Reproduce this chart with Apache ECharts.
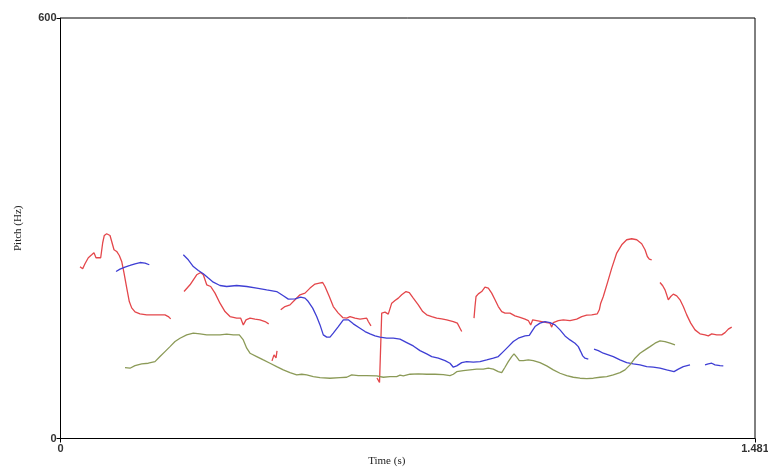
<!DOCTYPE html>
<html>
<head>
<meta charset="utf-8">
<title>Pitch contours</title>
<script src="https://cdn.jsdelivr.net/npm/echarts@6/dist/echarts.min.js"></script>
<style>
  html, body { margin: 0; padding: 0; background: #fff; }
  #chart { width: 768px; height: 468px; }
</style>
</head>
<body>
<div id="chart"></div>
<script>
// Axis ranges and tick labels
const timeRange = [0, 1.481];      // seconds
const pitchRange = [0, 600];       // Hz

// Pitch contours: each inner array is one voiced stretch of [time (s), pitch (Hz)]
const redContours = [
  [[0.0416,245.0],[0.0473,242.1],[0.0522,249.3],[0.0593,257.9],[0.0665,262.1],[0.0714,265.0],
   [0.0757,257.9],[0.0806,257.9],[0.0857,257.9],[0.0900,279.3],[0.0934,289.7],[0.0985,292.1],
   [0.1056,289.7],[0.1092,281.1],[0.1141,269.3],[0.1198,266.9],[0.1254,261.1],[0.1305,252.6],
   [0.1354,236.4],[0.1412,215.0],[0.1467,195.4],[0.1518,186.4],[0.1589,180.7],[0.1695,177.9],
   [0.1838,176.4],[0.2051,176.4],[0.2228,176.4],[0.2299,174.0],[0.2350,170.7]],
  [[0.2634,209.7],[0.2762,219.3],[0.2904,233.6],[0.2990,236.9],[0.3045,233.6],[0.3118,219.3],
   [0.3203,216.9],[0.3295,207.4],[0.3401,193.1],[0.3508,181.1],[0.3615,174.0],[0.3757,171.7],
   [0.3843,171.7],[0.3898,162.1],[0.3956,169.3],[0.4041,171.7],[0.4148,170.3],[0.4254,169.3],
   [0.4361,166.9],[0.4440,163.6]],
  [[0.4510,110.7],[0.4553,119.3],[0.4596,115.0],[0.4617,125.0]],
  [[0.4696,183.6],[0.4787,188.3],[0.4894,190.7],[0.5001,197.9],[0.5107,205.0],[0.5214,207.4],
   [0.5321,214.6],[0.5427,220.3],[0.5519,221.7],[0.5591,222.6],[0.5640,216.9],[0.5732,202.6],
   [0.5817,188.3],[0.5924,178.9],[0.6018,172.6],[0.6103,171.7],[0.6174,174.0],[0.6280,171.7],
   [0.6387,170.3],[0.6530,171.7],[0.6564,166.9],[0.6621,160.7]],
  [[0.6749,86.4],[0.6803,80.0],[0.6840,79.3],[0.6850,178.9],[0.6920,180.3],[0.6990,177.4],
   [0.7027,175.0],[0.7063,193.1],[0.7133,196.9],[0.7204,200.3],[0.7276,205.0],[0.7368,209.7],
   [0.7438,208.3],[0.7523,200.3],[0.7630,190.7],[0.7724,181.1],[0.7809,176.4],[0.7916,174.0],
   [0.8022,171.7],[0.8129,170.7],[0.8236,169.3],[0.8377,166.9],[0.8462,164.6],[0.8519,157.4],
   [0.8556,152.6]],
  [[0.8818,171.7],[0.8839,188.3],[0.8861,202.6],[0.8910,206.4],[0.8982,209.7],[0.9052,216.0],
   [0.9123,214.6],[0.9195,207.4],[0.9266,197.9],[0.9336,188.3],[0.9409,181.1],[0.9479,178.9],
   [0.9586,178.9],[0.9692,175.0],[0.9799,172.9],[0.9906,170.3],[0.9976,168.3],[1.0027,162.1],
   [1.0070,169.3],[1.0155,168.3],[1.0262,166.9],[1.0368,165.4],[1.0439,164.6],[1.0475,158.9],
   [1.0509,165.4],[1.0616,168.3],[1.0722,169.3],[1.0865,168.3],[1.1008,170.3],[1.1115,174.0],
   [1.1221,176.0],[1.1328,176.4],[1.1447,177.9],[1.1490,183.6],[1.1520,193.1],[1.1575,202.6],
   [1.1661,221.7],[1.1755,243.1],[1.1861,264.6],[1.1968,276.4],[1.2074,283.6],[1.2181,285.0],
   [1.2288,283.6],[1.2394,277.9],[1.2465,269.3],[1.2514,259.7],[1.2556,256.0],[1.2607,255.0]],
  [[1.2784,222.6],[1.2842,217.9],[1.2891,212.1],[1.2927,205.0],[1.2961,197.9],[1.3013,202.6],
   [1.3068,206.0],[1.3141,203.6],[1.3211,197.9],[1.3281,188.3],[1.3354,176.4],[1.3439,164.6],
   [1.3531,155.0],[1.3637,149.3],[1.3744,147.9],[1.3814,146.4],[1.3887,149.3],[1.3994,147.9],
   [1.4100,147.9],[1.4171,151.1],[1.4241,156.0],[1.4313,158.9]]
];

const blueContours = [
  [[0.1184,238.3],[0.1269,241.7],[0.1375,244.6],[0.1482,246.9],[0.1589,249.3],[0.1695,251.1],
   [0.1802,250.3],[0.1894,247.9]],
  [[0.2619,262.1],[0.2725,255.0],[0.2832,245.4],[0.2939,239.7],[0.3045,235.0],[0.3152,228.9],
   [0.3258,223.1],[0.3401,218.3],[0.3544,216.9],[0.3757,218.3],[0.3971,216.9],[0.4184,214.6],
   [0.4397,212.1],[0.4610,209.7],[0.4751,203.6],[0.4858,198.9],[0.5001,199.3],[0.5122,201.7],
   [0.5214,200.3],[0.5284,195.4],[0.5378,186.0],[0.5463,174.0],[0.5534,162.1],[0.5604,147.9],
   [0.5677,144.6],[0.5747,144.6],[0.5817,150.3],[0.5924,159.7],[0.6031,169.3],[0.6137,169.3],
   [0.6244,163.6],[0.6387,157.4],[0.6494,152.6],[0.6600,149.3],[0.6707,146.4],[0.6813,144.6],
   [0.6956,143.1],[0.7097,143.1],[0.7240,141.7],[0.7383,136.9],[0.7523,132.1],[0.7666,125.4],
   [0.7809,120.7],[0.7916,116.9],[0.8057,114.6],[0.8200,111.1],[0.8306,107.4],[0.8377,101.7],
   [0.8449,103.6],[0.8556,108.3],[0.8662,109.7],[0.8803,108.9],[0.8946,109.7],[0.9089,112.1],
   [0.9230,114.6],[0.9336,116.9],[0.9443,124.0],[0.9549,131.1],[0.9656,138.3],[0.9763,143.1],
   [0.9906,146.4],[0.9997,147.1],[1.0048,152.6],[1.0119,159.7],[1.0225,164.6],[1.0332,166.9],
   [1.0439,165.4],[1.0545,162.1],[1.0652,155.0],[1.0758,146.4],[1.0865,140.7],[1.0972,136.0],
   [1.1042,131.1],[1.1093,124.0],[1.1136,117.9],[1.1185,114.6],[1.1255,113.1]],
  [[1.1377,127.4],[1.1469,125.4],[1.1575,121.7],[1.1682,119.3],[1.1788,116.9],[1.1931,112.1],
   [1.2074,108.3],[1.2215,106.4],[1.2358,105.0],[1.2501,102.6],[1.2641,101.7],[1.2784,100.3],
   [1.2927,97.9],[1.3083,95.4],[1.3175,98.9],[1.3281,102.6],[1.3424,105.0]],
  [[1.3744,105.0],[1.3814,106.4],[1.3887,107.4],[1.3957,105.0],[1.4064,104.0],[1.4134,103.6]]
];

const greenContours = [
  [[0.1375,101.1],[0.1482,100.3],[0.1589,104.0],[0.1732,106.4],[0.1872,107.4],[0.2015,109.7],
   [0.2122,116.9],[0.2228,124.0],[0.2335,131.1],[0.2442,138.3],[0.2548,143.1],[0.2691,147.9],
   [0.2832,150.3],[0.2975,149.3],[0.3118,147.9],[0.3258,147.9],[0.3401,147.9],[0.3544,148.9],
   [0.3685,147.9],[0.3813,147.9],[0.3898,140.7],[0.3971,128.9],[0.4041,121.7],[0.4184,116.9],
   [0.4325,112.1],[0.4468,107.4],[0.4610,102.6],[0.4751,97.9],[0.4894,94.0],[0.5037,90.7],
   [0.5144,91.7],[0.5250,90.7],[0.5391,88.3],[0.5534,86.9],[0.5747,86.0],[0.5960,86.9],
   [0.6103,87.4],[0.6210,90.7],[0.6351,89.7],[0.6530,89.7],[0.6743,89.3],[0.6884,87.4],
   [0.7027,88.3],[0.7169,88.3],[0.7240,90.3],[0.7310,89.3],[0.7453,91.7],[0.7630,92.1],
   [0.7809,91.7],[0.7986,91.7],[0.8163,91.1],[0.8306,89.7],[0.8377,91.7],[0.8449,95.4],
   [0.8590,96.9],[0.8733,97.9],[0.8875,98.9],[0.9016,98.9],[0.9123,100.3],[0.9230,98.9],
   [0.9336,95.4],[0.9409,94.0],[0.9479,101.7],[0.9549,109.7],[0.9622,116.9],[0.9671,120.7],
   [0.9729,116.0],[0.9784,111.1],[0.9869,111.1],[0.9976,112.1],[1.0083,111.1],[1.0225,108.3],
   [1.0368,103.6],[1.0509,97.9],[1.0652,93.1],[1.0795,89.7],[1.0935,87.4],[1.1078,86.0],
   [1.1221,85.4],[1.1362,86.0],[1.1505,87.4],[1.1648,88.3],[1.1788,90.7],[1.1931,94.0],
   [1.2038,97.9],[1.2144,105.0],[1.2251,114.6],[1.2358,121.7],[1.2465,126.4],[1.2571,131.1],
   [1.2678,136.0],[1.2784,139.3],[1.2891,138.3],[1.2998,136.0],[1.3104,133.6]]
];

const contourColors = { red: '#e4474b', blue: '#3f3fd4', green: '#8b9a57' };

function contourSeries(contours, color) {
  return contours.map(points => ({
    type: 'line',
    data: points,
    showSymbol: false,
    symbol: 'none',
    silent: true,
    lineStyle: { color: color, width: 1.3 },
    animation: false
  }));
}

const chart = echarts.init(document.getElementById('chart'), null, { renderer: 'canvas' });

const tickLabelStyle = {
  color: '#333',
  fontFamily: 'Liberation Sans, Arial, sans-serif',
  fontSize: 11,
  fontWeight: 'bold'
};

chart.setOption({
  animation: false,
  backgroundColor: '#ffffff',
  grid: {
    left: 60.5, right: 13, top: 18, bottom: 29.5,
    outerBoundsMode: 'none',
    containLabel: false,
    show: true, borderColor: '#000', borderWidth: 1, backgroundColor: 'transparent'
  },
  xAxis: {
    type: 'value',
    min: timeRange[0], max: timeRange[1], interval: timeRange[1],
    name: 'Time (s)',
    nameLocation: 'middle',
    nameGap: 17,
    nameMoveOverlap: false,
    nameTextStyle: {
      fontFamily: 'Liberation Serif, Times New Roman, serif',
      fontSize: 11, color: '#222', padding: [0, 42, 0, 0]
    },
    axisLine: { show: true, lineStyle: { color: '#000', width: 1 } },
    axisTick: { show: true, inside: false, length: 4, lineStyle: { color: '#000' } },
    axisLabel: { ...tickLabelStyle, margin: 5, showMinLabel: true, showMaxLabel: true },
    splitLine: { show: false }
  },
  yAxis: {
    type: 'value',
    min: pitchRange[0], max: pitchRange[1], interval: pitchRange[1],
    name: 'Pitch (Hz)',
    nameLocation: 'middle',
    nameGap: 37,
    nameMoveOverlap: false,
    nameTextStyle: {
      fontFamily: 'Liberation Serif, Times New Roman, serif',
      fontSize: 11, color: '#222'
    },
    axisLine: { show: true, lineStyle: { color: '#000', width: 1 } },
    axisTick: { show: true, inside: false, length: 4, lineStyle: { color: '#000' } },
    axisLabel: { ...tickLabelStyle, margin: 4, showMinLabel: true, showMaxLabel: true },
    splitLine: { show: false }
  },
  series: [
    ...contourSeries(redContours, contourColors.red),
    ...contourSeries(blueContours, contourColors.blue),
    ...contourSeries(greenContours, contourColors.green)
  ]
});
</script>
</body>
</html>
